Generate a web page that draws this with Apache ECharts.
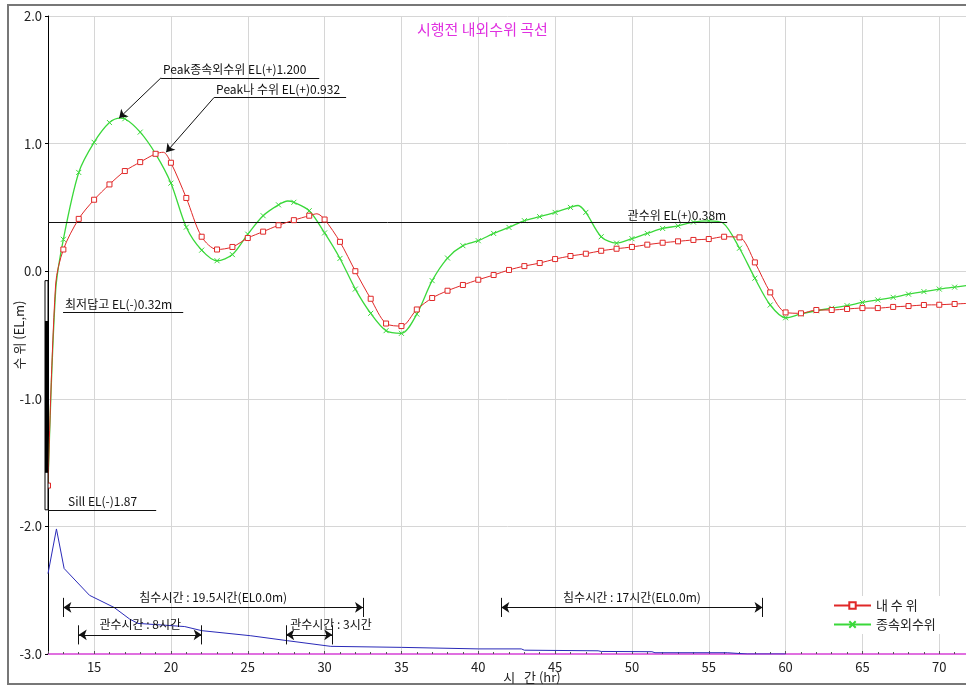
<!DOCTYPE html>
<html>
<head>
<meta charset="utf-8">
<script src="https://cdn.jsdelivr.net/npm/echarts@6/dist/echarts.min.js"></script>
<style>
html, body { margin: 0; padding: 0; background: #fff; }
#chart { width: 966px; height: 688px; }
</style>
</head>
<body>
<div id="chart"></div>
<script>
var FONT = '"Noto Sans CJK KR", "DejaVu Sans", sans-serif';

// 내 수 위 (시간, EL m)
var innerHours = [12, 12.5, 13, 14, 15, 16, 17, 18, 19, 19.5, 20, 21, 22, 23, 24, 25, 26, 27, 28, 29, 29.5,
	30, 31, 32, 33, 34, 35, 36, 37, 38, 39, 40, 41, 42, 43, 44, 45, 46, 47, 48, 49, 50,
	51, 52, 53, 54, 55, 56, 57, 58, 59, 60, 61, 62, 63, 64, 65, 66, 67, 68, 69, 70, 71, 71.9];
var innerLevels = [-1.68, -0.10, 0.17, 0.41, 0.56, 0.68, 0.785, 0.855, 0.92, 0.932, 0.85, 0.574, 0.27, 0.17, 0.19, 0.26, 0.31, 0.36, 0.40, 0.435, 0.45,
	0.405, 0.23, 0.00, -0.216, -0.41, -0.43, -0.30, -0.21, -0.153, -0.108, -0.067, -0.03, 0.01, 0.04, 0.064, 0.095, 0.119, 0.137, 0.16, 0.176, 0.19,
	0.208, 0.223, 0.234, 0.245, 0.252, 0.27, 0.265, 0.069, -0.166, -0.323, -0.33, -0.304, -0.304, -0.296, -0.289, -0.289, -0.28, -0.273, -0.265, -0.263, -0.257, -0.252];

// 종속외수위
var outerHours = [12, 12.5, 13, 14, 15, 16, 16.7, 17, 18, 19, 20, 21, 22, 23, 24, 25, 26, 27, 27.6, 28, 29,
	30, 31, 32, 33, 34, 35, 36, 37, 38, 39, 40, 41, 42, 43, 44, 45, 46, 46.5, 47, 48, 49, 50,
	51, 52, 53, 54, 55, 55.9, 57, 58, 59, 60, 61, 62, 63, 64, 65, 66, 67, 68, 69, 70, 71, 71.9];
var outerLevels = [-1.68, -0.15, 0.25, 0.774, 1.01, 1.165, 1.20, 1.195, 1.09, 0.92, 0.69, 0.345, 0.165, 0.082, 0.13, 0.29, 0.435, 0.52, 0.55, 0.54, 0.474,
	0.30, 0.10, -0.14, -0.33, -0.466, -0.487, -0.336, -0.074, 0.103, 0.20, 0.239, 0.296, 0.343, 0.396, 0.427, 0.461, 0.50, 0.515, 0.461, 0.27, 0.22, 0.255,
	0.296, 0.335, 0.355, 0.385, 0.395, 0.38, 0.18, -0.055, -0.265, -0.365, -0.335, -0.31, -0.29, -0.27, -0.245, -0.225, -0.205, -0.18, -0.16, -0.14, -0.125, -0.11];

// 하단 청색선
var blueHours = [12, 12.55, 13.05, 14.7, 16.3, 17.3, 17.85, 20.9, 22, 25.2, 27.6, 30.4, 35, 40, 42.8, 43, 47.8, 48, 51.3, 51.5, 56.2, 57.5, 60];
var blueLevels = [-2.37, -2.02, -2.33, -2.54, -2.635, -2.725, -2.76, -2.785, -2.817, -2.857, -2.896, -2.94, -2.948, -2.96, -2.96, -2.97, -2.975, -2.98, -2.982, -2.99, -2.99, -3.0, -3.0];

// 기준수위 / 주석
var irrigationLevel = 0.38, irrigationEnd = 56.2;
var lowestField = -0.32, sillLevel = -1.87;
var peakOuter = [16.63, 1.20], peakInner = [19.69, 0.932];
var gaugeOutline = [-0.074, -1.87], gaugeFill = [-0.39, -1.58];
var floodSpans = [[13, 32.5, '침수시간 : 19.5시간(EL0.0m)'], [41.5, 58.5, '침수시간 : 17시간(EL0.0m)']];
var drainSpans = [[14, 22, '관수시간 : 8시간'], [27.5, 30.5, '관수시간 : 3시간']];
var floodY = -2.635, drainY = -2.85;

function toPoints(xs, ys) {
	var t = [];
	for (var i = 0; i < xs.length; i++) {
		var p = { value: [xs[i], ys[i]] };
		if (xs[i] % 1 !== 0) p.symbol = 'none';
		t.push(p);
	}
	return t;
}

function lbl(text, pos, extra) {
	var o = { show: true, formatter: text, position: pos, distance: 2, color: '#111', fontSize: 12, fontFamily: FONT };
	for (var k in extra) o[k] = extra[k];
	return o;
}

function seg(x1, y1, x2, y2, label, s1, s2) {
	var a = { coord: [x1, y1], symbol: s1 || 'none' };
	var b = { coord: [x2, y2], symbol: s2 || 'none' };
	if (label) a.label = label;
	return [a, b];
}

var notes = [];
// peak labels
notes.push(seg(19.36, 1.516, 29.65, 1.516, lbl('Peak종속외수위 EL(+)1.200', 'insideStartTop')));
notes.push(seg(19.36, 1.516, peakOuter[0], peakOuter[1], null, 'none', 'arrow'));
notes.push(seg(22.81, 1.362, 31.4, 1.362, lbl('Peak나 수위 EL(+)0.932', 'insideStartTop')));
notes.push(seg(22.81, 1.362, peakInner[0], peakInner[1], null, 'none', 'arrow'));
// levels
notes.push(seg(12, irrigationLevel, irrigationEnd, irrigationLevel, lbl('관수위 EL(+)0.38m', 'insideEndTop', { distance: 1 })));
notes.push(seg(12.98, lowestField, 20.8, lowestField, lbl('최저답고 EL(-)0.32m', 'insideStartTop')));
notes.push(seg(12, sillLevel, 19.04, sillLevel, lbl('Sill EL(-)1.87', 'insideStartTop', { padding: [0, 0, 0, 18] })));
// dimension lines
floodSpans.concat(drainSpans).forEach(function (s, i) {
	var y = i < floodSpans.length ? floodY : drainY;
	var pos = (s[1] - s[0]) < 5 ? 'insideStartTop' : 'insideMiddleTop';
	notes.push(seg(s[0], y, s[1], y, lbl(s[2], pos, { distance: 4 }), 'arrow', 'arrow'));
	notes.push(seg(s[0], y + 0.075, s[0], y - 0.075));
	notes.push(seg(s[1], y + 0.075, s[1], y - 0.075));
});

var myChart = echarts.init(document.getElementById('chart'));
var option = {
	backgroundColor: '#fff',
	animation: false,
	textStyle: { fontFamily: FONT },
	title: {
		text: '시행전 내외수위 곡선',
		left: 412, top: 17,
		textStyle: { color: '#e030e0', fontSize: 15, fontWeight: 'normal', fontFamily: FONT }
	},
	graphic: [{
		type: 'rect', silent: true, z: -1,
		shape: { x: 8, y: 5, width: 980, height: 679 },
		style: { fill: 'none', stroke: '#777', lineWidth: 2 }
	}],
	legend: {
		orient: 'vertical',
		left: 830, top: 596,
		itemWidth: 37, itemHeight: 8, itemGap: 6,
		backgroundColor: '#fff',
		padding: [3, 24, 3, 3],
		textStyle: { fontSize: 13, color: '#222', fontFamily: FONT },
		data: ['내 수 위', '종속외수위']
	},
	grid: { left: 48, right: -4, top: 16, bottom: 34, containLabel: false, outerBoundsMode: 'none' },
	xAxis: {
		type: 'value', min: 12, max: 72, splitNumber: 12,
		name: '시   간 (hr)', nameLocation: 'middle', nameGap: 17, nameMoveOverlap: false,
		nameTextStyle: { fontSize: 13, color: '#222', padding: [0, 0, 0, 46], fontFamily: FONT },
		axisLine: { onZero: false, lineStyle: { color: '#e070e0', width: 2 } },
		axisTick: { show: true, inside: true, length: 3, lineStyle: { color: '#555' } },
		minorTick: { show: true, splitNumber: 5, length: 2, lineStyle: { color: '#555' } },
		axisLabel: {
			margin: 7, fontSize: 13, color: '#222',
			formatter: function (v) { return v % 5 === 0 ? String(v) : ''; }
		},
		splitLine: { show: true, lineStyle: { color: '#d6d6d6' } }
	},
	yAxis: {
		type: 'value', min: -3, max: 2, interval: 1,
		name: '수 위 (EL,m)', nameLocation: 'middle', nameGap: 22, nameRotate: 90, nameMoveOverlap: false,
		nameTextStyle: { fontSize: 13, color: '#222', fontFamily: FONT },
		axisLine: { show: true, onZero: false, lineStyle: { color: '#000', width: 1 } },
		axisTick: { show: true, length: 3, lineStyle: { color: '#000' } },
		axisLabel: { margin: 6, fontSize: 13, color: '#222', formatter: function (v) { return v.toFixed(1); } },
		splitLine: { show: true, lineStyle: { color: '#d6d6d6' } }
	},
	series: [{
		name: 'blue',
		type: 'line',
		data: toPoints(blueHours, blueLevels),
		symbol: 'none',
		lineStyle: { color: '#2a2ab8', width: 1 },
		z: 3,
		markLine: {
			silent: true,
			symbol: 'none',
			symbolSize: 8,
			animation: false,
			lineStyle: { color: '#111', width: 1, type: 'solid' },
			label: { show: false },
			data: notes
		}
	}, {
		name: '내 수 위',
		type: 'line',
		smooth: 0.3,
		data: toPoints(innerHours, innerLevels),
		symbol: 'rect', symbolSize: 5,
		lineStyle: { color: '#e02828', width: 1 },
		itemStyle: { color: '#fff', borderColor: '#e02828', borderWidth: 1 },
		z: 5
	}, {
		name: '종속외수위',
		type: 'line',
		smooth: 0.3,
		data: toPoints(outerHours, outerLevels),
		symbol: 'path://M0 0L10 10M0 10L10 0', symbolSize: 5,
		lineStyle: { color: '#3ad83a', width: 1.3 },
		itemStyle: { color: '#3ad83a', borderColor: '#3ad83a', borderWidth: 1 },
		z: 4
	}, {
		name: 'gauge',
		type: 'custom',
		clip: false,
		z: 6,
		data: [[12, gaugeOutline[0], gaugeOutline[1], gaugeFill[0], gaugeFill[1]]],
		encode: { x: 0, y: 1 },
		renderItem: function (params, api) {
			var a = api.coord([api.value(0), api.value(1)]);
			var b = api.coord([api.value(0), api.value(2)]);
			var c = api.coord([api.value(0), api.value(3)]);
			var d = api.coord([api.value(0), api.value(4)]);
			return {
				type: 'group',
				children: [{
					type: 'rect',
					shape: { x: a[0] - 3, y: a[1], width: 3, height: b[1] - a[1] },
					style: { fill: '#fff', stroke: '#000', lineWidth: 1 }
				}, {
					type: 'rect',
					shape: { x: c[0] - 3, y: c[1], width: 3, height: d[1] - c[1] },
					style: { fill: '#000' }
				}]
			};
		}
	}]
};
myChart.setOption(option);
</script>
</body>
</html>
